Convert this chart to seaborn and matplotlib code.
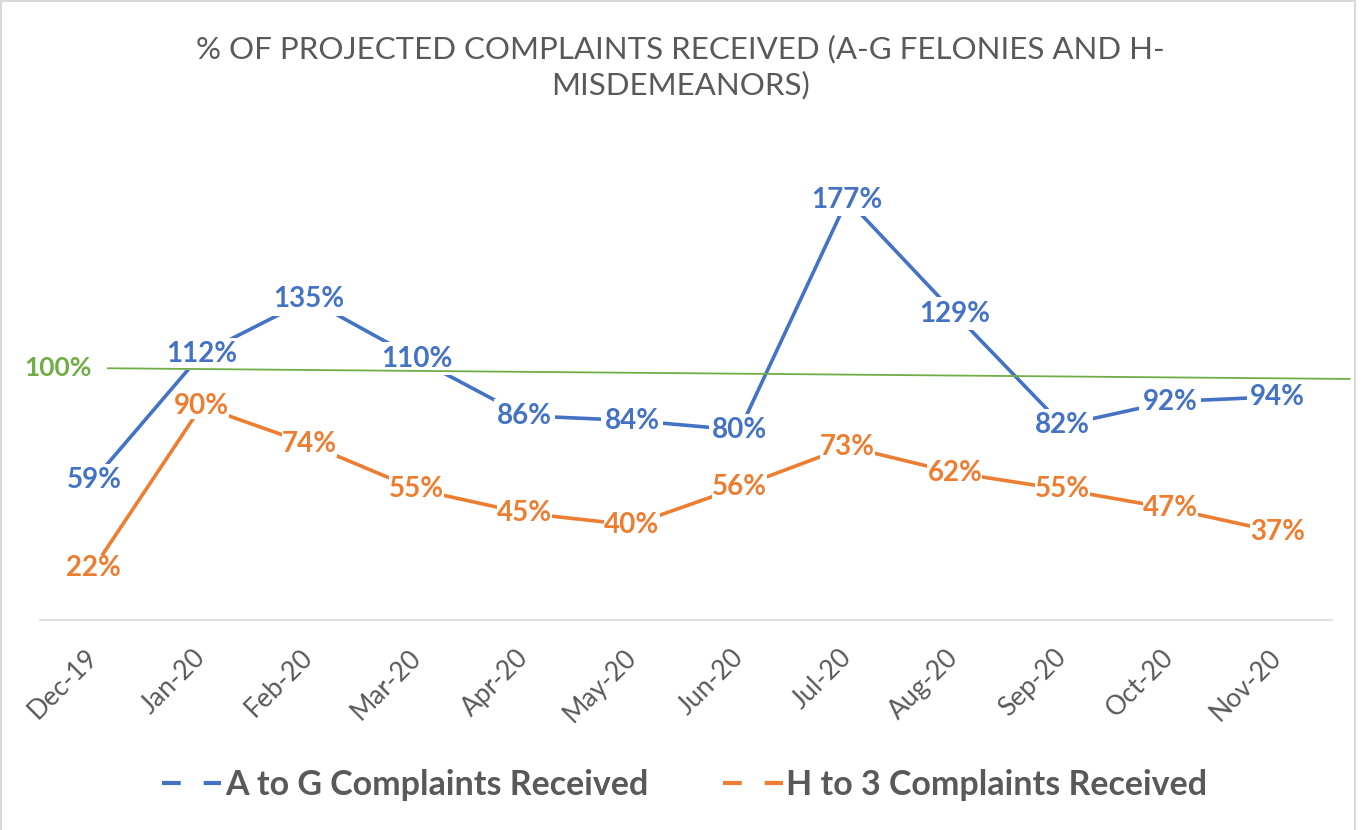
import numpy as np
import pandas as pd
import seaborn as sns
import matplotlib.pyplot as plt
from matplotlib.lines import Line2D
from matplotlib.patches import Rectangle

months = ["Dec-19", "Jan-20", "Feb-20", "Mar-20", "Apr-20", "May-20",
          "Jun-20", "Jul-20", "Aug-20", "Sep-20", "Oct-20", "Nov-20"]
a_to_g = [59, 112, 135, 110, 86, 84, 80, 177, 129, 82, 92, 94]
h_to_3 = [22, 90, 74, 55, 45, 40, 56, 73, 62, 55, 47, 37]
# hand drawn "100%" marker line, slightly tilted in the original
target_line = [106, 101.5]

BLUE = "#4472C4"
ORANGE = "#ED7D31"
GREEN = "#70AD47"
GRAY = "#595959"

sns.set_style("white")
plt.rcParams["font.family"] = ["Lato", "DejaVu Sans"]

df = pd.DataFrame({
    "month": months * 2,
    "pct": a_to_g + h_to_3,
    "series": ["A to G Complaints Received"] * len(months) + ["H to 3 Complaints Received"] * len(months),
})

fig = plt.figure(figsize=(13.61, 8.30), dpi=100)
ax = fig.add_axes([0.0294, 0.253, 0.949, 0.5723])

sns.lineplot(data=df, x="month", y="pct", hue="series", sort=False,
             palette=[BLUE, ORANGE], linewidth=2.6, legend=False, ax=ax)

ax.set_xlim(-0.5, len(months) - 0.5)
ax.set_ylim(0, 200)
ax.set_xlabel("")
ax.set_ylabel("")
ax.set_yticks([])
for s in ["left", "top", "right"]:
    ax.spines[s].set_visible(False)
ax.spines["bottom"].set_color("#D9D9D9")
ax.spines["bottom"].set_linewidth(1.2)

ax.set_xticks(range(len(months)))
ax.set_xticklabels(months, rotation=45, ha="right", va="center",
                   rotation_mode="anchor", fontsize=19, color=GRAY)
ax.tick_params(axis="x", which="major", length=0, pad=24)
ax.set_xticks(np.arange(-0.5, len(months)), minor=True)
ax.tick_params(axis="x", which="minor", length=7, width=1.2, color="#D9D9D9")

for i, v in enumerate(a_to_g):
    ax.text(i, v, f"{v}%", ha="center", va="center", fontsize=20,
            fontweight="bold", color=BLUE, zorder=5,
            bbox=dict(boxstyle="square,pad=0.12", fc="white", ec="none"))
for i, v in enumerate(h_to_3):
    ax.text(i, v, f"{v}%", ha="center", va="center", fontsize=20,
            fontweight="bold", color=ORANGE, zorder=5,
            bbox=dict(boxstyle="square,pad=0.0", fc="white", ec="none"))

ax.plot([0.13, 11.67], target_line, color=GREEN, linewidth=1.3,
        clip_on=False, zorder=6)
ax.text(-0.33, target_line[0], "100%", ha="center", va="center",
        fontsize=19, fontweight="bold", color=GREEN)

fig.text(0.5, 0.919,
         "% OF PROJECTED COMPLAINTS RECEIVED (A-G FELONIES AND H-\nMISDEMEANORS)",
         ha="center", va="center", fontsize=22.5, color=GRAY, linespacing=1.3)

handles = [
    Line2D([], [], color=BLUE, linewidth=3, dashes=(4.5, 5.5)),
    Line2D([], [], color=ORANGE, linewidth=3, dashes=(4.5, 5.5)),
]
fig.legend(handles, ["A to G Complaints Received", "H to 3 Complaints Received"],
           loc="center", bbox_to_anchor=(0.503, 0.054), ncol=2, frameon=False,
           prop={"size": 24.5, "weight": "bold"}, labelcolor=GRAY,
           handlelength=1.75, handletextpad=0.1, columnspacing=2.2)

fig.patches.append(Rectangle((0.001, -0.01), 0.9945, 1.0088, transform=fig.transFigure,
                             fill=False, edgecolor="#D9D9D9", linewidth=1.5))

fig.savefig("out.png", dpi=100, facecolor="white")
